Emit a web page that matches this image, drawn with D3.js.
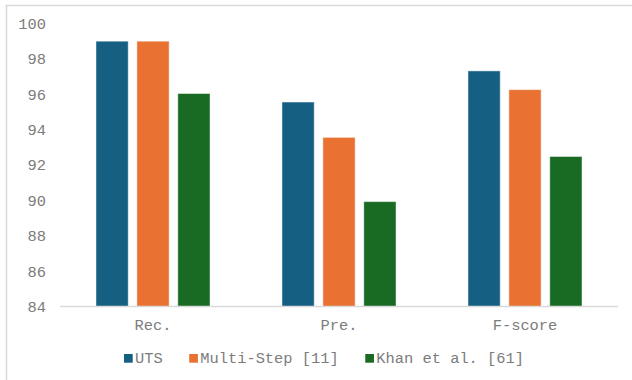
<!DOCTYPE html>
<html>
<head>
<meta charset="utf-8">
<script src="https://cdn.jsdelivr.net/npm/d3@7"></script>
<style>
  html, body { margin: 0; padding: 0; background: #ffffff; }
  svg { display: block; }
  text { font-family: "Liberation Mono", "DejaVu Sans Mono", monospace; fill: #7c7c7c; }
</style>
</head>
<body>
<svg id="chart" width="632" height="380"></svg>
<script>
// Metrics on the x axis, one group of bars per metric
const categories = ["Rec.", "Pre.", "F-score"];
// Methods compared
const seriesNames = ["UTS", "Multi-Step [11]", "Khan et al. [61]"];
const seriesColors = ["#156082", "#E97132", "#196B24"];
// Scores (%) per method, in the order of categories
const utsValues = [99.0, 95.56, 97.32];
const multiStepValues = [99.0, 93.56, 96.26];
const khanValues = [96.04, 89.93, 92.48];
// Y axis ticks
const yTicks = [84, 86, 88, 90, 92, 94, 96, 98, 100];

const seriesValues = [utsValues, multiStepValues, khanValues];
const textColor = "#7c7c7c";

const svg = d3.select("#chart");

// Chart frame
svg.append("rect")
  .attr("x", 6.5).attr("y", 5.5)
  .attr("width", 700).attr("height", 500)
  .attr("fill", "none")
  .attr("stroke", "#d9d9d9")
  .attr("stroke-width", 1.5);

const x0 = d3.scaleBand()
  .domain(categories)
  .range([60, 618])
  .paddingInner(0.387)
  .paddingOuter(0.1935);

const x1 = d3.scaleBand()
  .domain(seriesNames)
  .range([0, x0.bandwidth()])
  .paddingInner(0.212)
  .paddingOuter(0);

const y = d3.scaleLinear()
  .domain([84, 100])
  .range([306.5, 23.5]);

// Y axis labels (no axis line, no gridlines)
const yAxis = d3.axisLeft(y).tickValues(yTicks).tickSize(0).tickPadding(0).tickFormat(d3.format("d"));
const gy = svg.append("g").attr("transform", "translate(46,0)").call(yAxis);
gy.select(".domain").remove();
gy.selectAll("text")
  .attr("font-size", 15.4)
  .attr("fill", textColor)
  .style("font-family", '"Liberation Mono", monospace');

// Bars
const groups = svg.append("g")
  .selectAll("g")
  .data(categories)
  .join("g")
  .attr("transform", d => `translate(${x0(d)},0)`);

groups.selectAll("rect")
  .data((c, ci) => seriesNames.map((s, si) => ({ s, si, v: seriesValues[si][ci] })))
  .join("rect")
  .attr("x", d => x1(d.s))
  .attr("y", d => y(d.v))
  .attr("width", x1.bandwidth())
  .attr("height", d => y(84) - y(d.v))
  .attr("fill", d => seriesColors[d.si])
  .attr("stroke", "#ffffff")
  .attr("stroke-opacity", 0.45)
  .attr("stroke-width", 1);

// X axis baseline and category labels
const xAxis = d3.axisBottom(x0).tickSize(0).tickPadding(0);
const gx = svg.append("g").attr("transform", `translate(0,${y(84)})`).call(xAxis);
gx.select(".domain")
  .attr("d", `M60,0H618`)
  .attr("stroke", "#d9d9d9")
  .attr("stroke-width", 1.5);
gx.selectAll("text")
  .attr("dy", null)
  .attr("y", 23)
  .attr("font-size", 15.4)
  .attr("fill", textColor)
  .style("font-family", '"Liberation Mono", monospace');

// Legend
const legend = svg.append("g");
let lx = 124;
seriesNames.forEach((name, i) => {
  legend.append("rect")
    .attr("x", lx).attr("y", 354)
    .attr("width", 8.7).attr("height", 8.7)
    .attr("fill", seriesColors[i]);
  const t = legend.append("text")
    .attr("x", lx + 11).attr("y", 362.5)
    .attr("font-size", 15.4)
    .text(name);
  lx += 11 + t.node().getComputedTextLength() + 26.5;
});
</script>
</body>
</html>
